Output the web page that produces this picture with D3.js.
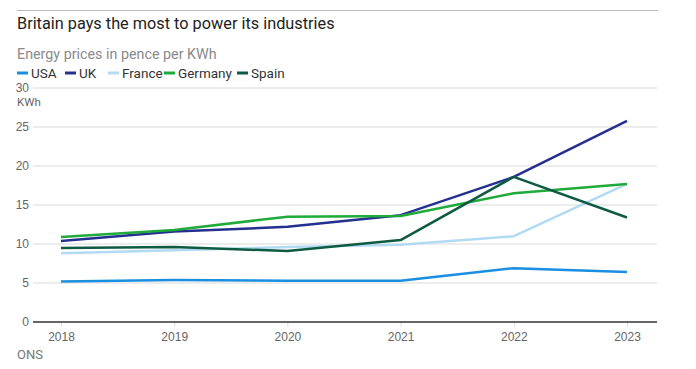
<!DOCTYPE html>
<html><head><meta charset="utf-8">
<script src="https://cdn.jsdelivr.net/npm/d3@7"></script>
<style>
body{margin:0;background:#fff;}
svg{display:block;font-family:Roboto,"Liberation Sans",sans-serif;}
</style></head>
<body><svg id="c" width="696" height="369"></svg>
<script>
const years = [2018, 2019, 2020, 2021, 2022, 2023];
const usa = [5.2, 5.4, 5.3, 5.3, 6.9, 6.4];
const uk = [10.4, 11.6, 12.2, 13.7, 18.6, 25.8];
const france = [8.8, 9.2, 9.6, 9.9, 11.0, 17.7];
const germany = [10.9, 11.8, 13.5, 13.6, 16.5, 17.7];
const spain = [9.5, 9.6, 9.1, 10.5, 18.6, 13.4];
const seriesNames = ["USA", "UK", "France", "Germany", "Spain"];
const seriesValues = [usa, uk, france, germany, spain];
const colors = ["#1a8ee0", "#24308f", "#b3daf3", "#1faa3a", "#0e5a43"];
const yTicks = [0, 5, 10, 15, 20, 25, 30];

const svg = d3.select("#c");
const x = d3.scalePoint().domain(years).range([61, 627]);
const y = d3.scaleLinear().domain([0, 30]).range([322, 88]);

svg.append("line").attr("x1",17).attr("x2",658).attr("y1",10.5).attr("y2",10.5)
  .attr("stroke","#bbb").attr("stroke-width",1);

svg.append("text").attr("x",17).attr("y",29).attr("font-size",16.3).attr("fill","#222")
  .text("Britain pays the most to power its industries");
svg.append("text").attr("x",17).attr("y",59).attr("font-size",14.3).attr("fill","#8a8a8a")
  .text("Energy prices in pence per KWh");

const legX = [17, 65, 108, 164, 237];
seriesNames.forEach((n,i)=>{
  const g = svg.append("g").attr("transform",`translate(${legX[i]},73)`);
  g.append("line").attr("x1",0).attr("x2",11).attr("y1",0).attr("y2",0)
    .attr("stroke",colors[i]).attr("stroke-width",3);
  g.append("text").attr("x",14).attr("y",4.5).attr("font-size",13.5).attr("fill","#333").text(n);
});

const yAxis = d3.axisLeft(y).tickValues(yTicks).tickSize(0).tickPadding(3);
const gy = svg.append("g").attr("transform","translate(32,0)").call(yAxis);
gy.select(".domain").remove();
gy.selectAll(".tick text").attr("font-size",12).attr("fill","#666").attr("dy","0.32em");
svg.append("g").selectAll("line").data(yTicks.filter(d=>d>0)).join("line")
  .attr("x1",33).attr("x2",657).attr("y1",d=>y(d)).attr("y2",d=>y(d))
  .attr("stroke","#e6e6e6").attr("stroke-width",1.5);
svg.append("text").attr("x",17).attr("y",106).attr("font-size",11.5).attr("fill","#666").text("KWh");

const xAxis = d3.axisBottom(x).tickSize(5).tickPadding(5);
const gx = svg.append("g").attr("transform",`translate(0,${y(0)})`).call(xAxis);
gx.select(".domain").remove();
gx.selectAll(".tick line").attr("stroke","#ddd");
gx.selectAll(".tick text").attr("font-size",12).attr("fill","#666");
svg.append("line").attr("x1",33).attr("x2",657).attr("y1",y(0)).attr("y2",y(0))
  .attr("stroke","#333").attr("stroke-width",1.5);

const line = d3.line().x((d,i)=>x(years[i])).y(d=>y(d));
seriesValues.forEach((v,i)=>{
  svg.append("path").datum(v).attr("d",line).attr("fill","none")
    .attr("stroke",colors[i]).attr("stroke-width",2.5).attr("stroke-linejoin","round");
});

svg.append("text").attr("x",17).attr("y",359).attr("font-size",13).attr("fill","#777").text("ONS");
</script></body></html>
